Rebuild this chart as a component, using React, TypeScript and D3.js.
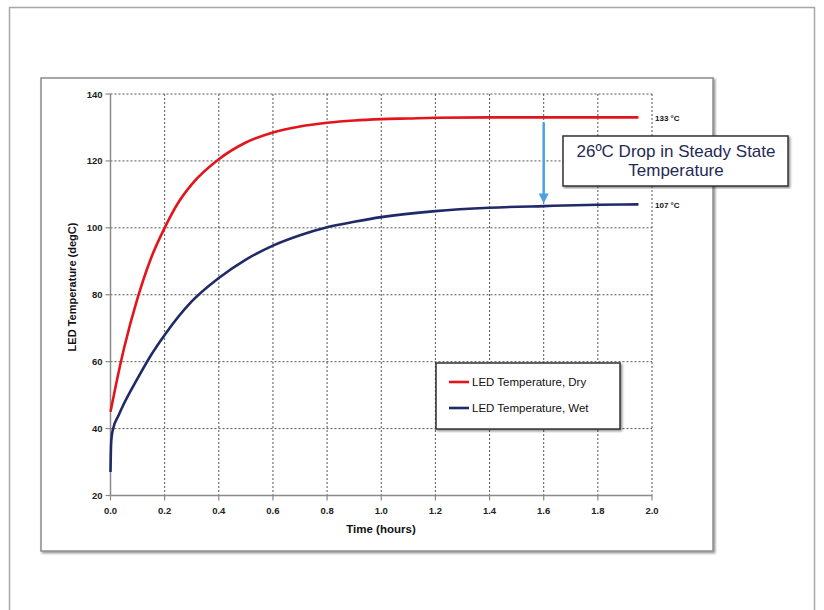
import React from "react";
import * as d3 from "d3";

const dryTime = [0, 0.02, 0.05, 0.1, 0.15, 0.2, 0.25, 0.3, 0.4, 0.5, 0.6, 0.7, 0.8, 0.9, 1.0, 1.1, 1.2, 1.4, 1.6, 1.8, 1.95];
const dryTemp = [45, 53, 64, 79, 91, 100, 107.5, 113, 120.5, 125.5, 128.5, 130.3, 131.4, 132.1, 132.5, 132.7, 132.9, 133, 133, 133, 133];

const wetTime = [0, 0.002, 0.005, 0.01, 0.03, 0.05, 0.1, 0.15, 0.2, 0.3, 0.4, 0.5, 0.6, 0.7, 0.8, 0.9, 1.0, 1.2, 1.4, 1.6, 1.8, 1.95];
const wetTemp = [27, 35, 38, 40, 44, 47.5, 55, 62, 68, 78, 85, 90.5, 94.7, 97.8, 100.2, 101.8, 103.2, 105, 106, 106.5, 106.9, 107];

const xTicks = [0, 0.2, 0.4, 0.6, 0.8, 1.0, 1.2, 1.4, 1.6, 1.8, 2.0];
const yTicks = [20, 40, 60, 80, 100, 120, 140];

const seriesNames = ["LED Temperature, Dry", "LED Temperature, Wet"];
const seriesColors = ["#e3141b", "#1f2a66"];
const endLabels = ["133 °C", "107 °C"];
const endValues = [133, 107];
const arrowTime = 1.6;
const noteLines = ["26ºC Drop in Steady State", "Temperature"];

export default function App() {
  const x = d3.scaleLinear().domain([0, 2]).range([110.5, 652]);
  const y = d3.scaleLinear().domain([20, 140]).range([495.5, 94]);
  const line = d3
    .line<[number, number]>()
    .x((d) => x(d[0]))
    .y((d) => y(d[1]))
    .curve(d3.curveMonotoneX);
  const dry = dryTime.map((t, i) => [t, dryTemp[i]] as [number, number]);
  const wet = wetTime.map((t, i) => [t, wetTemp[i]] as [number, number]);
  const series = [dry, wet];
  const font = "'Liberation Sans', Arial, sans-serif";

  const ax = x(arrowTime);
  const aTop = y(endValues[0]) + 5;
  const aBot = y(endValues[1]) - 10;

  return (
    <div style={{ position: "fixed", left: 0, top: 0 }}>
      <svg width={824} height={610} style={{ display: "block", background: "#fff" }}>
        <defs>
          <filter id="sh" x="-5%" y="-5%" width="110%" height="110%">
            <feDropShadow dx="1.5" dy="1.5" stdDeviation="1" floodColor="#000" floodOpacity="0.45" />
          </filter>
        </defs>
        {/* outer frame */}
        <rect x={9.5} y={7.5} width={805} height={620} fill="#fff" stroke="#a8a8a8" strokeWidth={1.5} />
        {/* chart box */}
        <rect x={41} y={78} width={672} height={473} fill="#fff" stroke="#8c8c8c" strokeWidth={1.5} filter="url(#sh)" />

        {/* grid */}
        {xTicks.slice(1).map((t) => (
          <line key={"gx" + t} x1={x(t)} x2={x(t)} y1={y(140)} y2={y(20)} stroke="#555" strokeWidth={1} strokeDasharray="2,2" />
        ))}
        {yTicks.slice(1).map((v) => (
          <line key={"gy" + v} x1={x(0)} x2={x(2)} y1={y(v)} y2={y(v)} stroke="#555" strokeWidth={1} strokeDasharray="2,2" />
        ))}

        {/* axes */}
        <line x1={x(0)} x2={x(0)} y1={y(140)} y2={y(20)} stroke="#8a8a8a" strokeWidth={1.5} />
        <line x1={x(0)} x2={x(2)} y1={y(20)} y2={y(20)} stroke="#8a8a8a" strokeWidth={1.5} />
        {yTicks.map((v) => (
          <g key={"yt" + v}>
            <line x1={x(0) - 5} x2={x(0)} y1={y(v)} y2={y(v)} stroke="#8a8a8a" strokeWidth={1.2} />
            <text x={x(0) - 8} y={y(v) + 3.5} textAnchor="end" fontFamily={font} fontWeight="bold" fontSize={9.5} fill="#222">
              {v}
            </text>
          </g>
        ))}
        {xTicks.map((t) => (
          <g key={"xt" + t}>
            <line x1={x(t)} x2={x(t)} y1={y(20)} y2={y(20) + 5} stroke="#8a8a8a" strokeWidth={1.2} />
            <text x={x(t)} y={y(20) + 18} textAnchor="middle" fontFamily={font} fontWeight="bold" fontSize={9.5} fill="#222">
              {t.toFixed(1)}
            </text>
          </g>
        ))}
        <text x={381} y={533} textAnchor="middle" fontFamily={font} fontWeight="bold" fontSize={11.5} fill="#111">
          Time (hours)
        </text>
        <text
          transform={`translate(76,287) rotate(-90)`}
          textAnchor="middle"
          fontFamily={font}
          fontWeight="bold"
          fontSize={11}
          fill="#111"
        >
          LED Temperature (degC)
        </text>

        {/* curves */}
        {series.map((s, i) => (
          <path key={"s" + i} d={line(s) || ""} fill="none" stroke={seriesColors[i]} strokeWidth={2.6} />
        ))}

        {/* end labels */}
        {endLabels.map((lbl, i) => (
          <text key={"el" + i} x={655} y={y(endValues[i]) + 4} fontFamily={font} fontWeight="bold" fontSize={8} fill="#111">
            {lbl}
          </text>
        ))}

        {/* arrow */}
        <line x1={ax} x2={ax} y1={aTop} y2={aBot} stroke="#4aa3df" strokeWidth={2.5} />
        <path d={`M${ax - 5},${aBot - 1} L${ax + 5},${aBot - 1} L${ax},${aBot + 9} Z`} fill="#4aa3df" />

        {/* annotation box */}
        <rect x={563} y={136} width={225} height={50} fill="#fff" stroke="#333" strokeWidth={1.5} filter="url(#sh)" />
        {noteLines.map((ln, i) => (
          <text key={"n" + i} x={676} y={157 + i * 18.5} textAnchor="middle" fontFamily={font} fontSize={17} fill="#1f2a55">
            {ln}
          </text>
        ))}

        {/* legend */}
        <rect x={436} y={363} width={184} height={66} fill="#fff" stroke="#333" strokeWidth={1.5} filter="url(#sh)" />
        {seriesNames.map((nm, i) => (
          <g key={"lg" + i}>
            <line x1={449} x2={469} y1={382 + i * 26} y2={382 + i * 26} stroke={seriesColors[i]} strokeWidth={2.6} />
            <text x={472} y={386 + i * 26} fontFamily={font} fontSize={11.5} fill="#111">
              {nm}
            </text>
          </g>
        ))}
      </svg>
    </div>
  );
}
